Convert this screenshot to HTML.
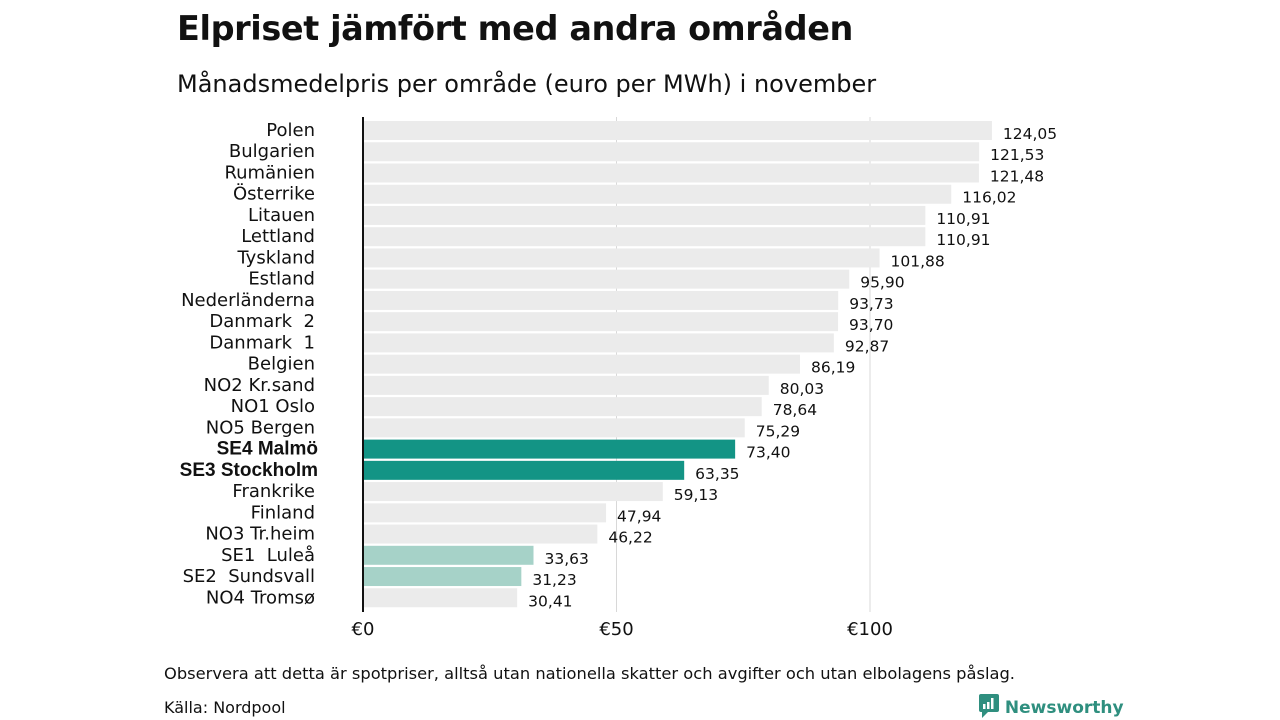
<!DOCTYPE html>
<html><head><meta charset="utf-8"><style>
body{margin:0;width:1280px;height:720px;background:#fff;font-family:"DejaVu Sans","Liberation Sans",sans-serif;color:#111;overflow:hidden;position:relative}
.t{position:absolute;white-space:nowrap}
</style></head><body>
<div class="t" style="left:177px;top:9px;font-size:33.5px;font-weight:bold;letter-spacing:-0.4px">Elpriset jämfört med andra områden</div>
<div class="t" style="left:177px;top:70px;font-size:24px">Månadsmedelpris per område (euro per MWh) i november</div>
<svg id="chart" width="1280" height="720" style="position:absolute;left:0;top:0"></svg>
<div class="t" style="left:164px;top:664px;font-size:16.3px">Observera att detta är spotpriser, alltså utan nationella skatter och avgifter och utan elbolagens påslag.</div>
<div class="t" style="left:164px;top:698px;font-size:16px">Källa: Nordpool</div>
<div class="t" style="left:979px;top:694px;font-size:17px;font-weight:bold;color:#2f8f7f">
<svg width="20" height="24" style="vertical-align:-5px"><rect x="0" y="0" width="20" height="18" rx="2" fill="#2f8f7f"/><polygon points="3,18 9,18 3,24" fill="#2f8f7f"/><rect x="4" y="10" width="2.5" height="5" fill="#fff"/><rect x="8" y="8" width="2.5" height="7" fill="#fff"/><rect x="12" y="4" width="2.5" height="11" fill="#fff"/></svg> Newsworthy</div>
<script>
const categories=["Polen","Bulgarien","Rumänien","Österrike","Litauen","Lettland","Tyskland","Estland","Nederländerna","Danmark  2","Danmark  1","Belgien","NO2 Kr.sand","NO1 Oslo","NO5 Bergen","SE4 Malmö","SE3 Stockholm","Frankrike","Finland","NO3 Tr.heim","SE1  Luleå","SE2  Sundsvall","NO4 Tromsø"];
const values=[124.05,121.53,121.48,116.02,110.91,110.91,101.88,95.90,93.73,93.70,92.87,86.19,80.03,78.64,75.29,73.40,63.35,59.13,47.94,46.22,33.63,31.23,30.41];
const highlight=["","","","","","","","","","","","","","","","dark","dark","","","","light","light",""];
const ticks=[0,50,100];
const NS="http://www.w3.org/2000/svg";
const svg=document.getElementById("chart");
const x0=363,scale=253.5/50,y0=121,pitch=21.24,bh=19;
const X=v=>x0+v*scale, Y=i=>y0+i*pitch;
function mk(tag,attrs){const e=document.createElementNS(NS,tag);for(const k in attrs)e.setAttribute(k,attrs[k]);svg.appendChild(e);return e;}
ticks.forEach(t=>{
  if(t>0){const g=mk("line",{x1:X(t),x2:X(t),y1:117,y2:612,stroke:"#d8d8d8","stroke-width":1});
  
  }
  const tx=mk("text",{x:X(t),y:635,"text-anchor":"middle","font-size":18,fill:"#111","font-family":"DejaVu Sans, Liberation Sans, sans-serif"});
  tx.textContent="€"+t;
  
  
});
categories.forEach((c,i)=>{
  const col=highlight[i]==="dark"?"#139485":highlight[i]==="light"?"#a6d2c8":"#ebebeb";
  const r=mk("rect",{x:x0,y:Y(i),width:X(values[i])-x0,height:bh,fill:col});
  
  
  const bold=highlight[i]==="dark";
  const l=mk("text",{x:bold?318:315,y:Y(i)+15,"text-anchor":"end","font-size":bold?19:18,"font-weight":bold?"bold":"normal",fill:"#111","font-family":bold?"Liberation Sans, sans-serif":"DejaVu Sans, Liberation Sans, sans-serif"});
  l.textContent=c;
  l.style.whiteSpace="pre";
  
  
  const v=mk("text",{x:X(values[i])+11,y:Y(i)+18,"font-size":15.5,fill:"#111","font-family":"DejaVu Sans, Liberation Sans, sans-serif"});
  v.textContent=values[i].toFixed(2).replace(".",",");
  
  
});
const ax=mk("line",{x1:x0,x2:x0,y1:117,y2:612,stroke:"#111","stroke-width":2});


</script>
</body></html>
